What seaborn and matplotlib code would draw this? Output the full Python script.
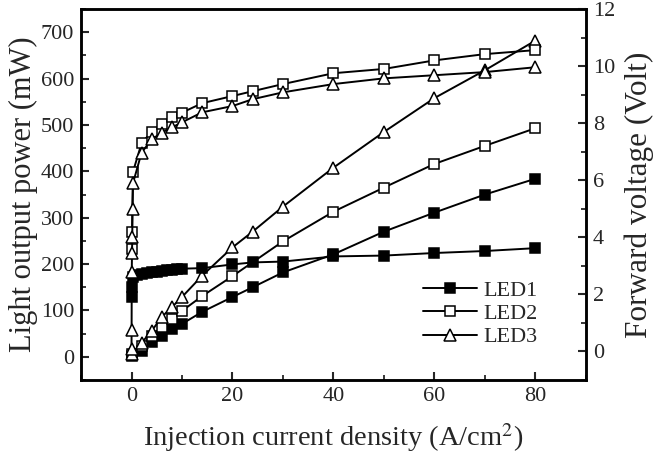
import matplotlib
matplotlib.use("Agg")
import matplotlib.pyplot as plt
import seaborn as sns
from matplotlib.ticker import MultipleLocator
from matplotlib.lines import Line2D

# Light output power (mW) vs injection current density (A/cm2)
x_p1 = [0, 2, 4, 6, 8, 10, 14, 20, 24, 30, 40, 50, 60, 70, 80]
p_led1 = [2, 13, 32, 45, 60, 71, 97, 129, 150, 182, 221, 270, 311, 350, 384]
x_p2 = [0, 2, 4, 6, 8, 10, 14, 20, 30, 40, 50, 60, 70, 80]
p_led2 = [6, 24, 45, 64, 82, 99, 131, 174, 249, 313, 365, 416, 455, 493]
x_p3 = [0, 2, 4, 6, 8, 10, 14, 20, 24, 30, 40, 50, 60, 70, 80]
p_led3 = [5, 30, 56, 86, 107, 129, 175, 236, 270, 324, 408, 485, 558, 618, 682]

# Forward voltage (V) vs injection current density
x_v1 = [0, 0.1, 0.2, 1, 2, 3, 4, 5, 6, 7, 8, 9, 10, 14, 20, 24, 30, 40, 50, 60, 70, 80]
v_led1 = [1.9, 2.25, 2.6, 2.68, 2.72, 2.75, 2.78, 2.8, 2.82, 2.84, 2.86, 2.88, 2.9,
          2.92, 3.05, 3.12, 3.15, 3.33, 3.36, 3.45, 3.52, 3.62]
x_v2 = [0, 0.1, 0.3, 2, 4, 6, 8, 10, 14, 20, 24, 30, 40, 50, 60, 70, 80]
v_led2 = [3.6, 4.2, 6.3, 7.3, 7.7, 7.96, 8.2, 8.37, 8.7, 8.95, 9.12, 9.37, 9.75,
          9.9, 10.2, 10.42, 10.56]
x_v3 = [0, 0.02, 0.05, 0.1, 0.15, 0.2, 0.3, 2, 4, 6, 8, 10, 14, 20, 24, 30, 40,
        50, 60, 70, 80]
v_led3 = [0.1, 0.75, 2.8, 3.45, 4.0, 5.0, 5.9, 6.97, 7.43, 7.67, 7.85, 8.03, 8.38,
          8.6, 8.84, 9.08, 9.37, 9.57, 9.68, 9.79, 9.96]

labels = ["LED1", "LED2", "LED3"]

sns.set_style("ticks")
plt.rcParams["font.family"] = ["Liberation Serif", "DejaVu Serif"]
plt.rcParams["mathtext.fontset"] = "stix"

fig = plt.figure(figsize=(6.64, 4.62), dpi=100)
ax = fig.add_axes([0.122, 0.1775, 0.7605, 0.803])
ax2 = ax.twinx()

styles = [
    dict(marker="s", markerfacecolor="black", markersize=7),
    dict(marker="s", markerfacecolor="white", markersize=7),
    dict(marker="^", markerfacecolor="white", markersize=8.5),
]
common = dict(color="black", linewidth=1.4, markeredgecolor="black",
              markeredgewidth=1.1, sort=False, estimator=None, legend=False)

for xs, ys, st in zip([x_p1, x_p2, x_p3], [p_led1, p_led2, p_led3], styles):
    sns.lineplot(x=xs, y=ys, ax=ax, **st, **common)
for xs, ys, st in zip([x_v1, x_v2, x_v3], [v_led1, v_led2, v_led3], styles):
    sns.lineplot(x=xs, y=ys, ax=ax2, **st, **common)

ax.set_xlim(-10, 90)
ax.set_ylim(-50, 750)
ax2.set_ylim(-1, 12)

ax.xaxis.set_major_locator(MultipleLocator(20))
ax.xaxis.set_minor_locator(MultipleLocator(10))
ax.yaxis.set_minor_locator(MultipleLocator(50))
ax.set_yticks(range(0, 701, 100))
ax2.yaxis.set_major_locator(MultipleLocator(2))
ax2.yaxis.set_minor_locator(MultipleLocator(1))

for a in (ax, ax2):
    a.tick_params(which="major", direction="in", length=6, width=1.5, labelsize=16, pad=5)
    a.tick_params(which="minor", direction="in", length=3.5, width=1.3)
    for s in a.spines.values():
        s.set_linewidth(1.8)
        s.set_color("black")
ax.tick_params(which="both", top=False, right=False)
ax2.tick_params(which="both", left=False, top=False, bottom=False)

ax.set_xlabel("Injection current density (A/cm$^2$)", fontsize=20.5, labelpad=11)
ax.set_ylabel("Light output power (mW)", fontsize=22, labelpad=2)
ax2.set_ylabel("Forward voltage (Volt)", fontsize=22.5, labelpad=7)

handles = [Line2D([], [], color="black", linewidth=1.4, markeredgecolor="black",
                  markeredgewidth=1.1, **st) for st in styles]
ax.legend(handles, labels, loc="lower right", bbox_to_anchor=(0.905, 0.088),
          frameon=False, fontsize=16, handlelength=2.45, handletextpad=0.3,
          labelspacing=0.12, borderaxespad=0, borderpad=0)

fig.savefig("out.png", dpi=100)
